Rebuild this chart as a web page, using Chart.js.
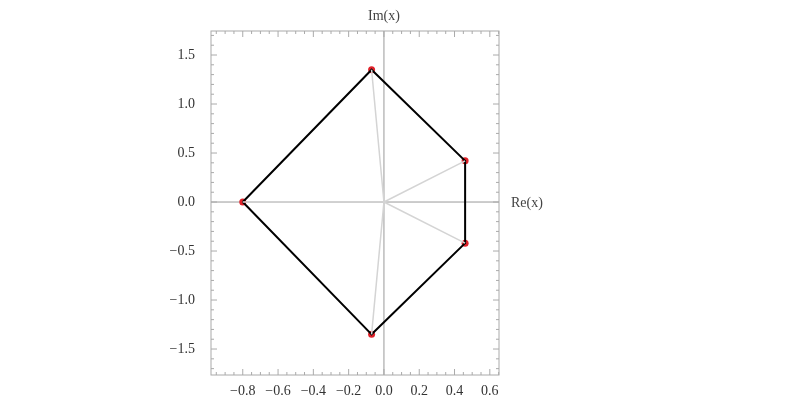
<!DOCTYPE html>
<html><head><script src="https://cdn.jsdelivr.net/npm/chart.js@4"></script>
<style>body{margin:0;background:#fff}</style></head>
<body><canvas id="c" width="800" height="405"></canvas>
<script>
const rootRe = [-0.8, -0.07, 0.46, 0.46, -0.07];
const rootIm = [0.0, 1.35, 0.42, -0.42, -1.35];
const xTicks = [-0.8, -0.6, -0.4, -0.2, 0.0, 0.2, 0.4, 0.6];
const yTicks = [-1.5, -1.0, -0.5, 0.0, 0.5, 1.0, 1.5];

const pts = rootRe.map((r, i) => ({ x: r, y: rootIm[i] }));
const spokes = [];
pts.forEach(p => { spokes.push({ x: 0, y: 0 }, p, { x: NaN, y: NaN }); });

const serif = '"Liberation Serif", "DejaVu Serif", serif';

const frame = {
  id: 'frame',
  beforeDatasetsDraw(chart) {
    const { ctx, chartArea: a, scales: { x, y } } = chart;
    ctx.save();
    ctx.strokeStyle = '#999';
    ctx.lineWidth = 1;
    const x0 = x.getPixelForValue(0), y0 = y.getPixelForValue(0);
    ctx.beginPath();
    ctx.moveTo(x0, a.top); ctx.lineTo(x0, a.bottom);
    ctx.moveTo(a.left, y0); ctx.lineTo(a.right, y0);
    ctx.stroke();
    ctx.strokeStyle = '#aaa';
    ctx.strokeRect(a.left, a.top, a.right - a.left, a.bottom - a.top);
    ctx.beginPath();
    for (let v = -0.95; v <= 0.651; v += 0.05) {
      const px = x.getPixelForValue(v);
      const major = Math.abs(v * 5 - Math.round(v * 5)) < 1e-6;
      const L = major ? 6 : 3;
      ctx.moveTo(px, a.bottom); ctx.lineTo(px, a.bottom - L);
      ctx.moveTo(px, a.top); ctx.lineTo(px, a.top + L);
    }
    for (let v = -1.7; v <= 1.71; v += 0.1) {
      const py = y.getPixelForValue(v);
      const major = Math.abs(v * 2 - Math.round(v * 2)) < 1e-6;
      const L = major ? 6 : 3;
      ctx.moveTo(a.left, py); ctx.lineTo(a.left + L, py);
      ctx.moveTo(a.right, py); ctx.lineTo(a.right - L, py);
    }
    ctx.stroke();
    ctx.fillStyle = '#444';
    ctx.font = '14px ' + serif;
    ctx.textAlign = 'center'; ctx.textBaseline = 'bottom';
    ctx.fillText('Im(x)', x0, a.top - 8);
    ctx.textAlign = 'left'; ctx.textBaseline = 'middle';
    ctx.fillText('Re(x)', a.right + 12, y0 + 1);
    ctx.restore();
  }
};

new Chart(document.getElementById('c'), {
  type: 'scatter',
  data: {
    datasets: [
      { data: spokes, showLine: true, borderColor: '#d4d4d4', borderWidth: 1.5, pointRadius: 0, spanGaps: false },
      { data: pts.concat([pts[0]]), showLine: true, borderColor: '#000', borderWidth: 2, pointRadius: 0 },
      { data: pts, pointRadius: 3.5, pointBackgroundColor: '#e0222a', pointBorderWidth: 0 }
    ]
  },
  options: {
    responsive: false, animation: false,
    layout: { padding: { top: 31, right: 301, left: 0, bottom: 0 } },
    plugins: { legend: { display: false }, tooltip: { enabled: false } },
    scales: {
      x: {
        type: 'linear', min: -0.98, max: 0.652,
        afterBuildTicks: s => { s.ticks = xTicks.map(v => ({ value: v })); },
        afterFit: s => { s.height = 30; },
        grid: { display: false }, border: { display: false },
        ticks: { color: '#333', font: { family: serif, size: 14 }, padding: 0, maxRotation: 0, autoSkip: false,
                 callback: v => v.toFixed(1).replace('-', '\u2212') }
      },
      y: {
        type: 'linear', min: -1.765, max: 1.745,
        afterBuildTicks: s => { s.ticks = yTicks.map(v => ({ value: v })); },
        afterFit: s => { s.width = 211; },
        grid: { display: false }, border: { display: false },
        ticks: { color: '#333', font: { family: serif, size: 14 }, padding: 8,
                 callback: v => v.toFixed(1).replace('-', '\u2212') }
      }
    }
  },
  plugins: [frame]
});
</script></body></html>
